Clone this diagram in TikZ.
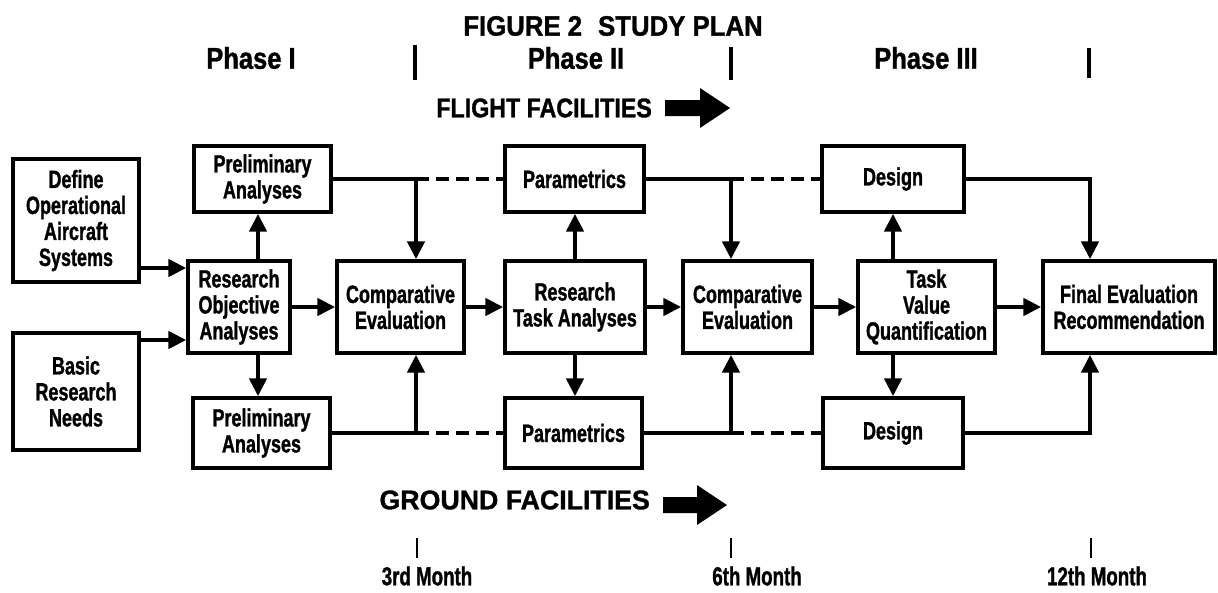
\documentclass[tikz,border=0pt]{standalone}
\usepackage{fontspec}
\setmainfont{Liberation Sans}
\newfontfamily\boxfont[FakeStretch=0.72,FakeBold=1.2]{Liberation Sans}
\newfontfamily\headfont[FakeStretch=0.92,FakeBold=1.2]{Liberation Sans}
\newfontfamily\phasefont[FakeStretch=0.85,FakeBold=1.2]{Liberation Sans}
\newfontfamily\flightfont[FakeStretch=0.86,FakeBold=1.2]{Liberation Sans}
\newfontfamily\groundfont[FakeStretch=0.99,FakeBold=1.2]{Liberation Sans}
\usetikzlibrary{arrows.meta}
\begin{document}
\begin{tikzpicture}[x=1pt,y=-1pt,
  box/.style={draw, line width=3.4pt, align=center, inner sep=0pt,
    font=\boxfont\bfseries\fontsize{25}{26}\selectfont},
  conn/.style={line width=4.5pt, -{Triangle[length=18pt,width=17pt]}},
  dline/.style={line width=4.5pt, dash pattern=on 13pt off 7pt},
  sepbar/.style={line width=3.2pt},
  tickbar/.style={line width=2.6pt},
  headtext/.style={inner sep=0pt, font=\headfont\bfseries\fontsize{28}{28}\selectfont},
  phasetext/.style={inner sep=0pt, font=\phasefont\bfseries\fontsize{30}{30}\selectfont},
  flighttext/.style={inner sep=0pt, font=\flightfont\bfseries\fontsize{27}{27}\selectfont},
  groundtext/.style={inner sep=0pt, font=\groundfont\bfseries\fontsize{27}{27}\selectfont},
  monthtext/.style={inner sep=0pt, font=\boxfont\bfseries\fontsize{26}{26}\selectfont},
  blockarrow/.style={fill=black}]
\useasboundingbox (0,0) rectangle (1218,592);

% titles
\node[headtext] (title) at (613,26) {FIGURE 2\hspace{16pt}STUDY PLAN};
\node[phasetext] (ph1) at (251,58) {Phase I};
\node[phasetext] (ph2) at (576,58) {Phase II};
\node[phasetext] (ph3) at (926,58) {Phase III};
\draw[sepbar] (415,45) -- (415,80);
\draw[sepbar] (731,47) -- (731,80);
\draw[sepbar] (1089,48) -- (1089,78);

\node[flighttext, anchor=east] (flight) at (652,108) {FLIGHT FACILITIES};
\fill[blockarrow] (665,100) -- (700,100) -- (700,88) -- (730,108) -- (700,128) -- (700,116) -- (665,116) -- cycle;

\node[groundtext, anchor=east] (ground) at (650,500) {GROUND FACILITIES};
\fill[blockarrow] (663,497) -- (697,497) -- (697,485) -- (727,505) -- (697,525) -- (697,513) -- (663,513) -- cycle;

% boxes
\node[box, minimum width=126pt, minimum height=123pt] (def) at (76,220.5) {Define\\Operational\\Aircraft\\Systems};
\node[box, minimum width=126pt, minimum height=117pt] (bas) at (76,391.5) {Basic\\Research\\Needs};
\node[box, minimum width=137pt, minimum height=66pt] (pT) at (262.5,179) {Preliminary\\Analyses};
\node[box, minimum width=137pt, minimum height=70pt] (pB) at (261.5,433) {Preliminary\\Analyses};
\node[box, minimum width=102pt, minimum height=92pt] (ro) at (239,307) {Research\\Objective\\Analyses};
\node[box, minimum width=127pt, minimum height=92pt] (ce1) at (400.5,307) {Comparative\\Evaluation};
\node[box, minimum width=139pt, minimum height=66pt] (paT) at (574.5,179) {Parametrics};
\node[box, minimum width=140pt, minimum height=92pt] (rta) at (575,307) {Research\\Task Analyses};
\node[box, minimum width=137pt, minimum height=70pt] (paB) at (573.5,433) {Parametrics};
\node[box, minimum width=129pt, minimum height=92pt] (ce2) at (747.5,307) {Comparative\\Evaluation};
\node[box, minimum width=142pt, minimum height=66pt] (dT) at (893,179) {Design};
\node[box, minimum width=137pt, minimum height=92pt] (tvq) at (926.5,307) {Task\\Value\\Quantification};
\node[box, minimum width=140pt, minimum height=70pt] (dB) at (893,433) {Design};
\node[box, minimum width=172pt, minimum height=92pt] (fin) at (1129,307) {Final Evaluation\\Recommendation};

% helper coordinates
\coordinate (xa) at (416,0);
\coordinate (xb) at (731,0);
\coordinate (xc) at (1090,0);
\coordinate (xr) at (258,0);
\coordinate (ya) at (0,268);
\coordinate (yb) at (0,340);

% connectors
\draw[conn] (def.east |- ya) -- (ro.west |- ya);
\draw[conn] (bas.east |- yb) -- (ro.west |- yb);
\draw[conn] (xr |- ro.north) -- (xr |- pT.south);
\draw[conn] (xr |- ro.south) -- (xr |- pB.north);
\draw[conn] (ro.east) -- (ce1.west);
\draw[conn] (pT.east) -| (xa |- ce1.north);
\draw[conn] (pB.east) -| (xa |- ce1.south);
\draw[dline] (xa |- pT.east) -- (paT.west);
\draw[dline] (xa |- pB.east) -- (paB.west);
\draw[conn] (ce1.east) -- (rta.west);
\draw[conn] (rta.north) -- (rta.north |- paT.south);
\draw[conn] (rta.south) -- (rta.south |- paB.north);
\draw[conn] (rta.east) -- (ce2.west);
\draw[conn] (paT.east) -| (xb |- ce2.north);
\draw[conn] (paB.east) -| (xb |- ce2.south);
\draw[dline] (xb |- paT.east) -- (dT.west);
\draw[dline] (xb |- paB.east) -- (dB.west);
\draw[conn] (ce2.east) -- (tvq.west);
\draw[conn] (dT.south |- tvq.north) -- (dT.south);
\draw[conn] (dB.north |- tvq.south) -- (dB.north);
\draw[conn] (tvq.east) -- (fin.west);
\draw[conn] (dT.east) -| (xc |- fin.north);
\draw[conn] (dB.east) -| (xc |- fin.south);

% month marks
\coordinate (m3) at (417,538);
\coordinate (m6) at (731,538);
\coordinate (m12) at (1091,538);
\draw[tickbar] (m3) -- ++(0,20);
\draw[tickbar] (m6) -- ++(0,20);
\draw[tickbar] (m12) -- ++(0,20);
\node[monthtext] (l3) at (427,576) {3rd Month};
\node[monthtext] (l6) at (757,576) {6th Month};
\node[monthtext] (l12) at (1097,576) {12th Month};
\end{tikzpicture}
\end{document}
